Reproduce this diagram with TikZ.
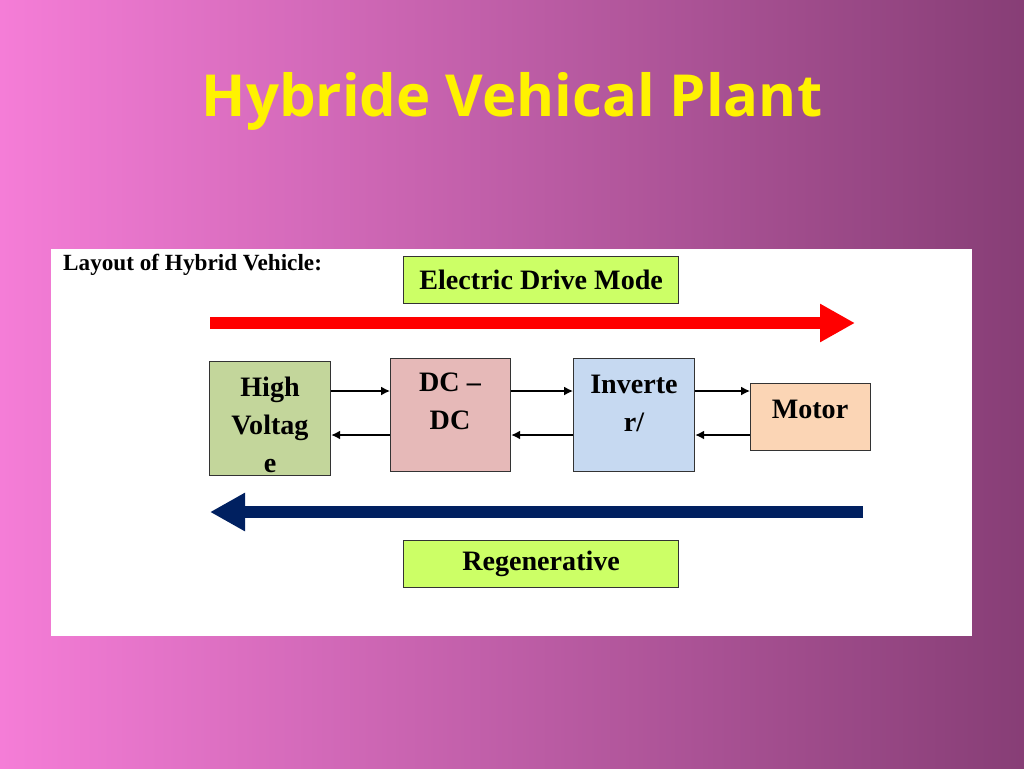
\documentclass[tikz,border=0pt]{standalone}
\usepackage{fontspec}
\setmainfont{Liberation Serif}
\newfontfamily\titlefont{Open Sans}
\usetikzlibrary{arrows.meta}
\definecolor{navy}{RGB}{0,32,96}
\definecolor{lime}{RGB}{204,255,102}
\definecolor{hvc}{RGB}{195,214,155}
\definecolor{dcc}{RGB}{230,185,184}
\definecolor{invc}{RGB}{198,217,241}
\definecolor{motc}{RGB}{251,213,181}
\definecolor{bgl}{RGB}{245,125,215}
\definecolor{bgr}{RGB}{135,62,118}
\begin{document}
\begin{tikzpicture}[x=0.02cm,y=-0.02cm,
 box/.style={draw=black!80,line width=0.7pt,anchor=north west,inner sep=0pt},
 lbl/.style={font=\bfseries\fontsize{16}{21.5}\selectfont,align=center},
 sm/.style={-{Latex[length=5pt,width=5pt]},line width=0.8pt}]
\useasboundingbox (0,0) rectangle (1024,768);
\shade[left color=bgl, right color=bgr] (0,0) rectangle (1024,768);
\node[text=yellow,font=\titlefont\bfseries\fontsize{33}{38}\selectfont] (title) at (512,101) {Hybride Vehical Plant};
\fill[white] (51,249) rectangle (972,636);
\node[anchor=west,font=\bfseries\fontsize{13.2}{16}\selectfont] (layout) at (57,265) {Layout of Hybrid Vehicle:};
\node[box,fill=lime,minimum width=275*0.02cm,minimum height=47*0.02cm,lbl] (edm) at (403,256) {Electric Drive Mode};
\node[box,fill=lime,minimum width=275*0.02cm,minimum height=47*0.02cm,lbl] (reg) at (403,540) {Regenerative};
\coordinate (r1) at (210,323); \coordinate (r2) at (855,323);
\draw[red,line width=12*0.02cm,-{Triangle[length=35*0.02cm,width=36*0.02cm]}] (r1) -- (r2);
\coordinate (b1) at (863,512); \coordinate (b2) at (210,512);
\draw[navy,line width=12*0.02cm,-{Triangle[length=35*0.02cm,width=36*0.02cm]}] (b1) -- (b2);
\node[box,fill=hvc,minimum width=121*0.02cm,minimum height=114*0.02cm] (hv) at (209,361) {};
\node[box,fill=dcc,minimum width=120*0.02cm,minimum height=113*0.02cm] (dc) at (390,358) {};
\node[box,fill=invc,minimum width=121*0.02cm,minimum height=113*0.02cm] (inv) at (573,358) {};
\node[box,fill=motc,minimum width=120*0.02cm,minimum height=67*0.02cm] (mot) at (750,383) {};
\begin{scope}
\clip (210,362) rectangle (329,474);
\node[lbl,anchor=north,text width=116*0.02cm] (hvt) at (270,371) {High\\Voltag\\e};
\end{scope}
\node[lbl,anchor=north] (dct) at (450,367) {DC –\\DC};
\node[lbl,anchor=north] (invt) at (634,369) {Inverte\\r/};
\node[lbl,anchor=north] (mott) at (810,394) {Motor};
\draw[sm] (hv.east |- 0,391) -- (dc.west |- 0,391);
\draw[sm] (dc.west |- 0,435) -- (hv.east |- 0,435);
\draw[sm] (dc.east |- 0,391) -- (inv.west |- 0,391);
\draw[sm] (inv.west |- 0,435) -- (dc.east |- 0,435);
\draw[sm] (inv.east |- 0,391) -- (mot.west |- 0,391);
\draw[sm] (mot.west |- 0,435) -- (inv.east |- 0,435);
\end{tikzpicture}
\end{document}
